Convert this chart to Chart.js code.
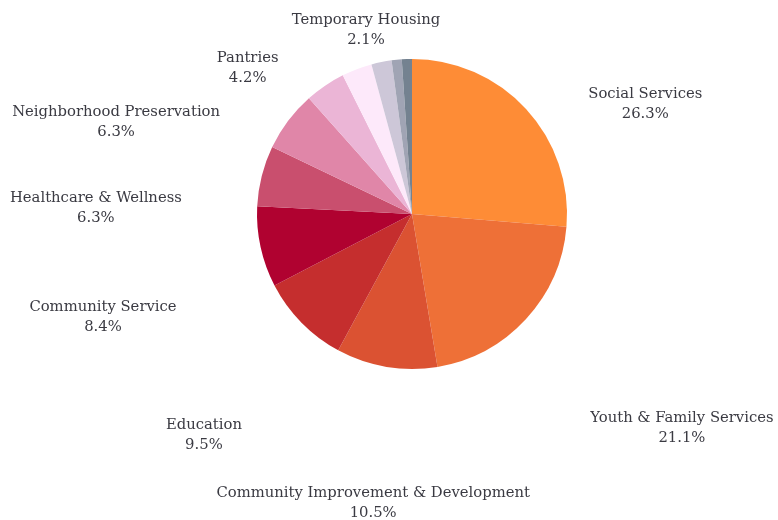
<!DOCTYPE html>
<html>
<head>
<meta charset="utf-8">
<script src="https://cdn.jsdelivr.net/npm/chart.js@4/dist/chart.umd.min.js"></script>
<style>
  html, body { margin: 0; padding: 0; background: #fff; }
  #wrap { width: 778px; height: 520px; position: relative; }
</style>
</head>
<body>
<div id="wrap"><canvas id="chart"></canvas></div>
<script>
// program areas, in slice order clockwise from 12 o'clock
const categories = [
  'Social Services',
  'Youth & Family Services',
  'Community Improvement & Development',
  'Education',
  'Community Service',
  'Healthcare & Wellness',
  'Neighborhood Preservation',
  'Pantries',
  'Senior Services',
  'Temporary Housing',
  'Arts & Culture',
  'Animal Welfare'
];
const counts = [25, 20, 10, 9, 8, 6, 6, 4, 3, 2, 1, 1];
const colors = [
  '#fe8c36', '#ee7037', '#db5232', '#c52e2e', '#b00230', '#c94f6e',
  '#e086a8', '#ebb5d6', '#fde9fa', '#cdc7d8', '#a0a4b4', '#748290'
];
const labelled = [true, true, true, true, true, true, true, true, false, true, false, false];

// where each label sits: turn from the slice's mid angle (deg) and distance in radii
const labelTurn = [17.3, -4.3, -1.8, -2.1, -6, -12.9, -19.6, -14.2, 0, -2.6, 0, 0];
const labelDist = [1.665, 2.22, 1.877, 1.955, 2.1, 2.04, 2.0, 1.42, 1, 1.23, 1, 1];

const total = counts.reduce((a, b) => a + b, 0);

const outLabels = {
  id: 'outLabels',
  afterDatasetsDraw(chart) {
    const ctx = chart.ctx;
    const meta = chart.getDatasetMeta(0);
    ctx.save();
    ctx.font = '14.8px "DejaVu Serif", serif';
    ctx.fillStyle = '#3a3a42';
    ctx.textAlign = 'center';
    ctx.textBaseline = 'middle';
    meta.data.forEach((arc, i) => {
      if (!labelled[i]) return;
      const p = arc.getProps(['x', 'y', 'startAngle', 'endAngle', 'outerRadius'], true);
      const a = (p.startAngle + p.endAngle) / 2 + labelTurn[i] * Math.PI / 180;
      const d = p.outerRadius * labelDist[i];
      const x = p.x + Math.cos(a) * d;
      const y = p.y + Math.sin(a) * d + 1;
      const pct = (counts[i] / total * 100).toFixed(1) + '%';
      ctx.fillText(categories[i], x, y - 10);
      ctx.fillText(pct, x, y + 10);
    });
    ctx.restore();
  }
};

const ctx = document.getElementById('chart').getContext('2d');
const chart = new Chart(ctx, {
  type: 'pie',
  data: {
    labels: categories,
    datasets: [{
      data: counts,
      backgroundColor: colors,
      borderWidth: 0
    }]
  },
  options: {
    responsive: true,
    maintainAspectRatio: false,
    animation: false,
    layout: { padding: { top: 59, bottom: 151, left: 100, right: 54 } },
    plugins: {
      legend: { display: false },
      tooltip: { enabled: false }
    }
  },
  plugins: [outLabels]
});
</script>
</body>
</html>
